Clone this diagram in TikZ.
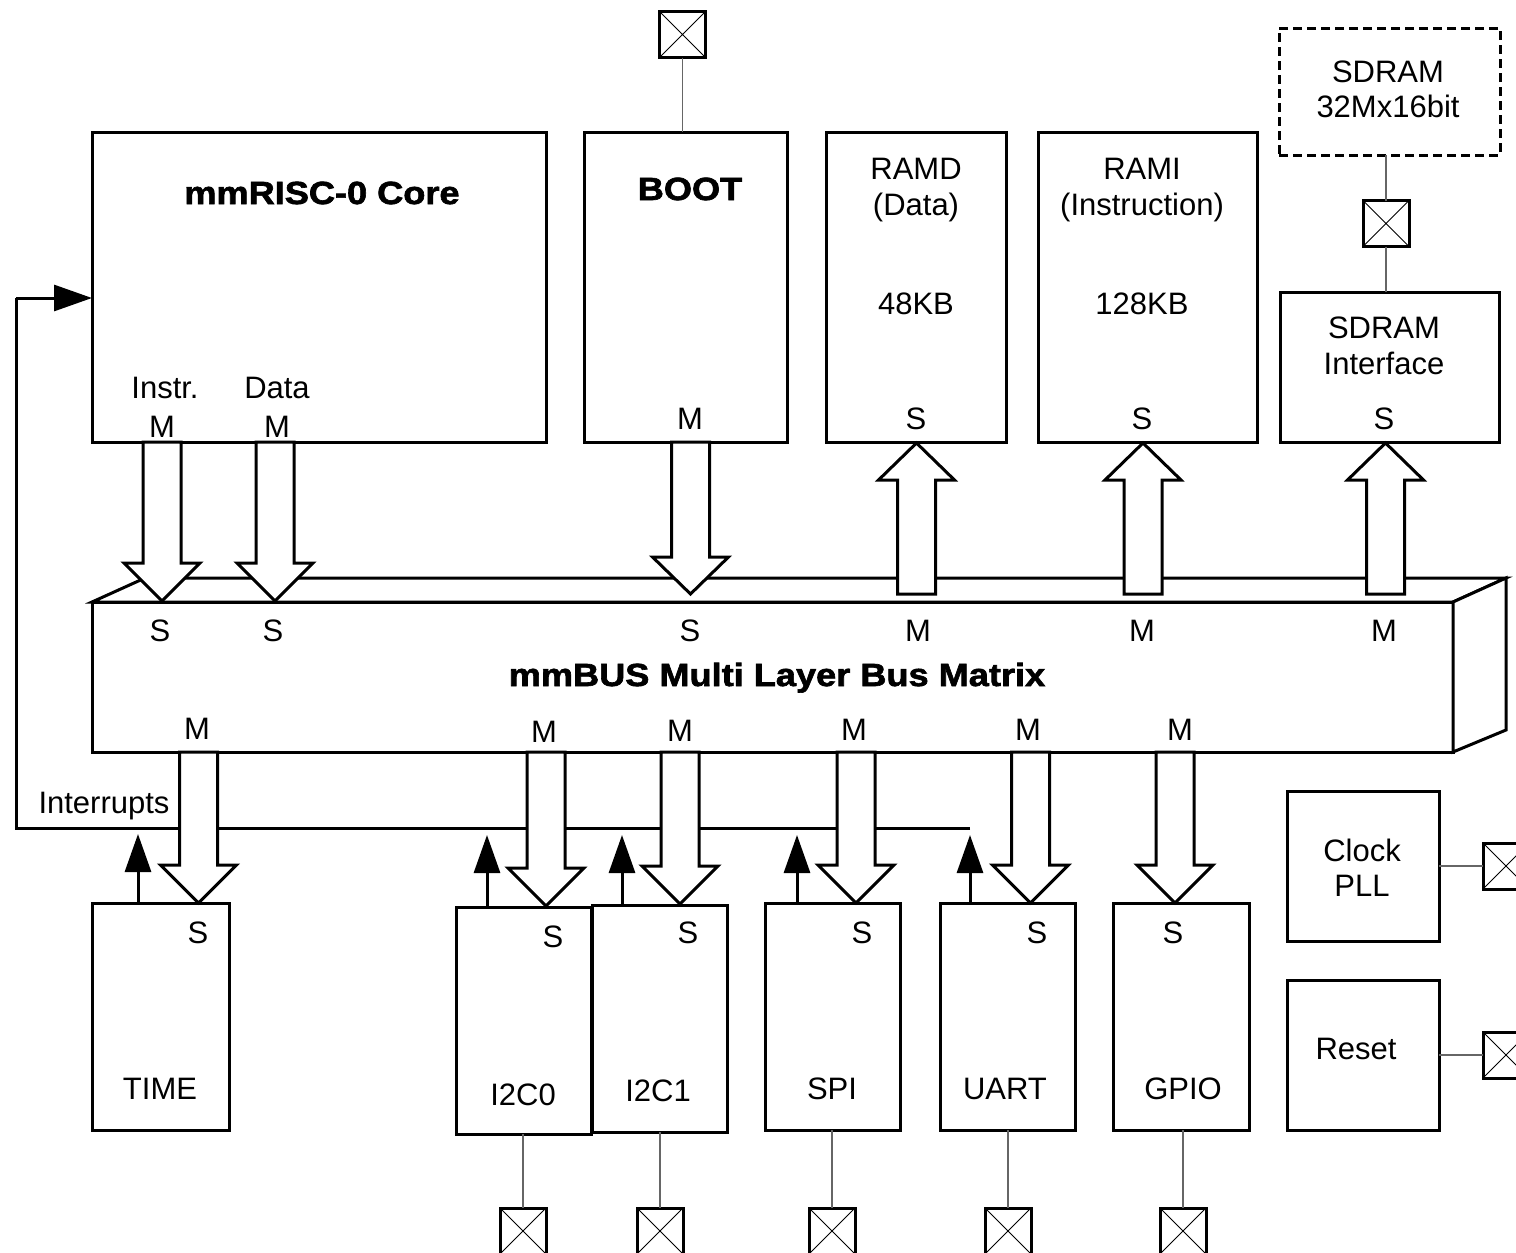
\documentclass[tikz,border=0pt]{standalone}
\usepackage{fontspec}
\setmainfont{Liberation Sans}
\newfontfamily\heavy{Liberation Sans}[FakeStretch=1.13,FakeBold=2]
\usetikzlibrary{arrows.meta}
\newcommand\busdown[4]{%
  \draw[busarrow] ({#1-19},{#2}) -- ({#1-19},{#3}) -- ({#1-38},{#3}) -- ({#1},{#4}) -- ({#1+38},{#3}) -- ({#1+19},{#3}) -- ({#1+19},{#2}) -- cycle;}
\begin{document}
\begin{tikzpicture}[x=1pt,y=-1pt,
  blk/.style={draw,line width=3pt,inner sep=0,outer sep=0,anchor=north west,fill=white},
  busarrow/.style={draw,line width=3pt,fill=white,line join=miter},
  lbl/.style={font=\fontsize{31}{36}\selectfont,inner sep=0,anchor=base},
  ttl/.style={font=\heavy\bfseries\fontsize{32}{38}\selectfont,inner sep=0,anchor=base},
  pad/.style={draw,line width=3pt,minimum size=46pt,inner sep=0,outer sep=0,fill=white,
    path picture={\draw[line width=1pt] (path picture bounding box.north west) -- (path picture bounding box.south east)
      (path picture bounding box.north east) -- (path picture bounding box.south west);}},
  conn/.style={draw=black!60,line width=1.4pt},
  irq/.style={line width=3pt,-{Triangle[length=38pt,width=26pt]}},
  wire/.style={line width=3pt,line join=miter}]
\useasboundingbox (0,0) rectangle (1516,1253);
\clip (0,0) rectangle (1516,1253);

% ---------- interrupt wiring ----------
\coordinate (irqR) at (970,828);
\coordinate (irqL) at (16,828);
\coordinate (irqU) at (16,298);

% ---------- top boxes ----------
\node[blk,minimum width=454pt,minimum height=310pt] (core) at (92,132) {};
\node[blk,minimum width=203pt,minimum height=310pt] (boot) at (584,132) {};
\node[blk,minimum width=180pt,minimum height=310pt] (ramd) at (826,132) {};
\node[blk,minimum width=219pt,minimum height=310pt] (rami) at (1038,132) {};
\node[blk,dash pattern=on 9pt off 5pt,minimum width=221pt,minimum height=127pt] (sdram) at (1279,28) {};
\node[blk,minimum width=219pt,minimum height=150pt] (sdif) at (1280,292) {};

\draw[wire] (irqR) -- (irqL) -- (irqU);
\draw[irq] (irqU) -- (irqU -| core.west);

% ---------- bus matrix (3D box) ----------
\node[blk,minimum width=1361pt,minimum height=150pt] (bus) at (92,602) {};
\coordinate (busTL) at (145,578);
\coordinate (busTR) at (1506,578);
\coordinate (busBR) at (1506,730);
\draw[wire,fill=white] (bus.north west) -- (busTL) -- (busTR) -- (bus.north east) -- cycle;
\draw[wire,fill=white] (bus.north east) -- (busTR) -- (busBR) -- (bus.south east) -- cycle;

% ---------- bus arrows (top) ----------
\busdown{162}{442}{563}{601}
\busdown{275}{442}{563}{601}
\busdown{690.5}{442}{557}{594}
\busdown{916.5}{594}{480}{443}
\busdown{1143}{594}{480}{443}
\busdown{1385.5}{594}{480}{443}

% ---------- bottom boxes ----------
\node[blk,minimum width=137pt,minimum height=227pt] (time) at (92,903) {};
\node[blk,minimum width=135pt,minimum height=227pt] (i2c0) at (456,907) {};
\node[blk,minimum width=135pt,minimum height=227pt] (i2c1) at (592,905) {};
\node[blk,minimum width=135pt,minimum height=227pt] (spi) at (765,903) {};
\node[blk,minimum width=135pt,minimum height=227pt] (uart) at (940,903) {};
\node[blk,minimum width=136pt,minimum height=227pt] (gpio) at (1113,903) {};
\node[blk,minimum width=152pt,minimum height=150pt] (clk) at (1287,791) {};
\node[blk,minimum width=152pt,minimum height=150pt] (rst) at (1287,980) {};

% ---------- bus arrows (bottom) ----------
\busdown{198.5}{752}{865}{903}
\busdown{546}{752}{868}{906}
\busdown{680}{752}{866}{904}
\busdown{856}{752}{865}{903}
\busdown{1030.5}{752}{865}{903}
\busdown{1175}{752}{865}{903}

% ---------- interrupt request arrows ----------
\coordinate (q0) at (138,834);
\coordinate (q1) at (487,835);
\coordinate (q2) at (622,835);
\coordinate (q3) at (797,835);
\coordinate (q4) at (970,835);
\draw[irq] (q0 |- time.north) -- (q0);
\draw[irq] (q1 |- i2c0.north) -- (q1);
\draw[irq] (q2 |- i2c1.north) -- (q2);
\draw[irq] (q3 |- spi.north) -- (q3);
\draw[irq] (q4 |- uart.north) -- (q4);

% ---------- pads ----------
\node[pad] (bootpad) at (682.5,34.5) {};
\node[pad] (sdrpad) at (1386,223.5) {};
\node[pad] (pi2c0) at (523,1231) {};
\node[pad] (pi2c1) at (660,1231) {};
\node[pad] (pspi) at (832,1231) {};
\node[pad] (puart) at (1008,1231) {};
\node[pad] (pgpio) at (1183,1231) {};
\node[pad] (pclk) at (1506,866) {};
\node[pad] (prst) at (1506,1055) {};

\draw[conn] (bootpad.south) -- (bootpad.south |- boot.north);
\draw[conn] (sdrpad.north |- sdram.south) -- (sdrpad.north);
\draw[conn] (sdrpad.south) -- (sdrpad.south |- sdif.north);
\draw[conn] (pi2c0.north) -- (pi2c0.north |- i2c0.south);
\draw[conn] (pi2c1.north) -- (pi2c1.north |- i2c1.south);
\draw[conn] (pspi.north) -- (pspi.north |- spi.south);
\draw[conn] (puart.north) -- (puart.north |- uart.south);
\draw[conn] (pgpio.north) -- (pgpio.north |- gpio.south);
\draw[conn] (clk.east) -- (pclk.west);
\draw[conn] (rst.east) -- (prst.west);

% ---------- texts ----------
\node[ttl] (tcore) at (322,204) {mmRISC-0 Core};
\node[ttl] (tboot) at (690,200) {BOOT};
\node[ttl] (tbus) at (777,686) {mmBUS Multi Layer Bus Matrix};

\node[lbl] (tinstr) at (165,398) {Instr.};
\node[lbl] (tim) at (162,437) {M};
\node[lbl] (tdata) at (277,398) {Data};
\node[lbl] (tdm) at (277,437) {M};
\node[lbl] (tbm) at (690,429) {M};

\node[lbl] (tramd) at (916,179) {RAMD};
\node[lbl] (tramd2) at (916,215) {(Data)};
\node[lbl] (tramd3) at (916,314) {48KB};
\node[lbl] (tramds) at (916,429) {S};
\node[lbl] (trami) at (1142,179) {RAMI};
\node[lbl] (trami2) at (1142,215) {(Instruction)};
\node[lbl] (trami3) at (1142,314) {128KB};
\node[lbl] (tramis) at (1142,429) {S};
\node[lbl] (tsd1) at (1388,82) {SDRAM};
\node[lbl] (tsd2) at (1388,117) {32Mx16bit};
\node[lbl] (tsi1) at (1384,338) {SDRAM};
\node[lbl] (tsi2) at (1384,374) {Interface};
\node[lbl] (tsis) at (1384,429) {S};

\node[lbl] (bs1) at (160,641) {S};
\node[lbl] (bs2) at (273,641) {S};
\node[lbl] (bs3) at (690,641) {S};
\node[lbl] (bm1) at (918,641) {M};
\node[lbl] (bm2) at (1142,641) {M};
\node[lbl] (bm3) at (1384,641) {M};

\node[lbl] (bm4) at (197,739) {M};
\node[lbl] (bm5) at (544,742) {M};
\node[lbl] (bm6) at (680,741) {M};
\node[lbl] (bm7) at (854,740) {M};
\node[lbl] (bm8) at (1028,740) {M};
\node[lbl] (bm9) at (1180,740) {M};

\node[lbl] (tirq) at (104,813) {Interrupts};

\node[lbl] (ts0) at (198,943) {S};
\node[lbl] (ttime) at (160,1099) {TIME};
\node[lbl] (ts1) at (553,947) {S};
\node[lbl] (ti2c0) at (523,1105) {I2C0};
\node[lbl] (ts2) at (688,943) {S};
\node[lbl] (ti2c1) at (658,1101) {I2C1};
\node[lbl] (ts3) at (862,943) {S};
\node[lbl] (tspi) at (832,1099) {SPI};
\node[lbl] (ts4) at (1037,943) {S};
\node[lbl] (tuart) at (1005,1099) {UART};
\node[lbl] (ts5) at (1173,943) {S};
\node[lbl] (tgpio) at (1183,1099) {GPIO};

\node[lbl] (tclk1) at (1362,861) {Clock};
\node[lbl] (tclk2) at (1362,896) {PLL};
\node[lbl] (trst) at (1356,1059) {Reset};
\end{tikzpicture}
\end{document}
